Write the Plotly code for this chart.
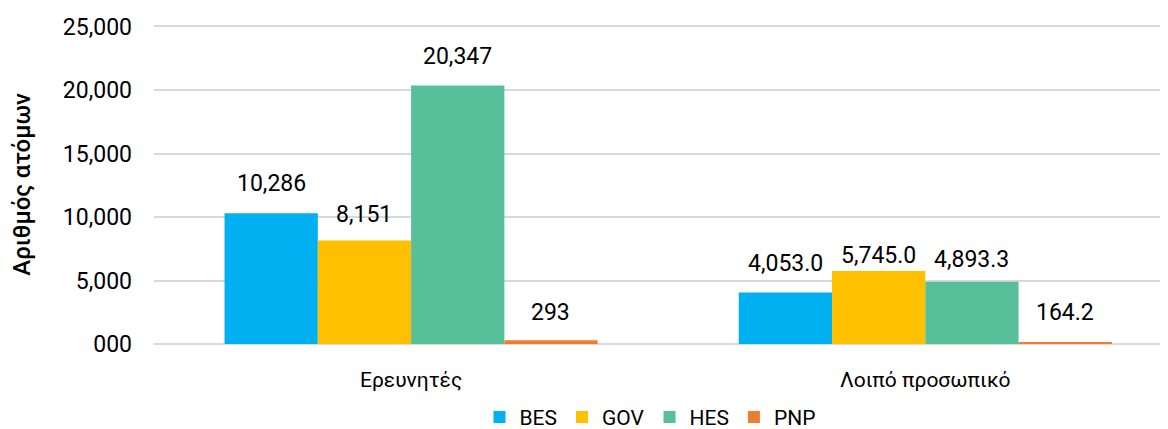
import plotly.graph_objects as go

categories = ["Ερευνητές", "Λοιπό προσωπικό"]
series_names = ["BES", "GOV", "HES", "PNP"]
bes = [10286, 4053.0]
gov = [8151, 5745.0]
hes = [20347, 4893.3]
pnp = [293, 164.2]
labels_bes = ["10,286", "4,053.0"]
labels_gov = ["8,151", "5,745.0"]
labels_hes = ["20,347", "4,893.3"]
labels_pnp = ["293", "164.2"]
tick_vals = [0, 5000, 10000, 15000, 20000, 25000]
tick_text = ["000", "5,000", "10,000", "15,000", "20,000", "25,000"]

colors = ["#00B0F0", "#FFC000", "#57BF9A", "#ED7D31"]
all_vals = [bes, gov, hes, pnp]
all_labels = [labels_bes, labels_gov, labels_hes, labels_pnp]
# label vertical offsets (px) per series per category (styling)
label_shift = [[14, 14], [10, 0], [14, 7], [12, 14]]

FONT = "Roboto"
W, H = 1160, 421          # page has an 8px body margin
L, T = 146, 15
PLOT_BOTTOM = 336.5
plot_w = W - L
plot_h = PLOT_BOTTOM - T

fig = go.Figure()
for i, name in enumerate(series_names):
    fig.add_trace(go.Bar(
        name=name, x=categories, y=all_vals[i],
        marker=dict(color=colors[i], line=dict(width=0)),
    ))

bar_px = 514 * (1 - 0.2744) / 4
annotations = []
for i in range(4):
    for j, cat in enumerate(categories):
        annotations.append(dict(
            x=cat, y=all_vals[i][j], xref="x", yref="y",
            text=all_labels[i][j], showarrow=False,
            xshift=(i - 1.5) * bar_px, yshift=label_shift[i][j],
            yanchor="bottom", font=dict(family=FONT, size=23, color="#000000"),
        ))
annotations.append(dict(
    x=(14 - L) / plot_w, y=(PLOT_BOTTOM - 177) / plot_h,
    xref="paper", yref="paper", text="Αριθμός ατόμων",
    xanchor="center", yanchor="middle",
    showarrow=False, textangle=-90,
    font=dict(family=FONT, size=24, color="#000000", weight=500),
))

fig.update_layout(
    width=W, height=H,
    margin=dict(l=L, r=0, t=T, b=H - PLOT_BOTTOM, autoexpand=False),
    paper_bgcolor="white", plot_bgcolor="white",
    barmode="group", bargap=0.2744, bargroupgap=0,
    font=dict(family=FONT, size=20, color="#000000"),
    xaxis=dict(range=[-0.5, 1.472], showgrid=False, showline=False, automargin=False,
               tickfont=dict(family=FONT, size=21), ticks="", ticklabelstandoff=21),
    yaxis=dict(range=[0, 25275], tickvals=tick_vals, ticktext=tick_text, automargin=False,
               showgrid=True, gridcolor="#D9D9D9", gridwidth=1.5,
               zeroline=True, zerolinecolor="#D9D9D9", zerolinewidth=1.5,
               showline=False, ticks="", ticklabelstandoff=21,
               tickfont=dict(family=FONT, size=23)),
    legend=dict(orientation="h", x=(642 - L) / plot_w, xanchor="center",
                y=-(410 - PLOT_BOTTOM) / plot_h, yanchor="middle",
                font=dict(family=FONT, size=21), itemwidth=30,
                traceorder="normal"),
    annotations=annotations,
    showlegend=True,
)
fig.write_html("out.html")
